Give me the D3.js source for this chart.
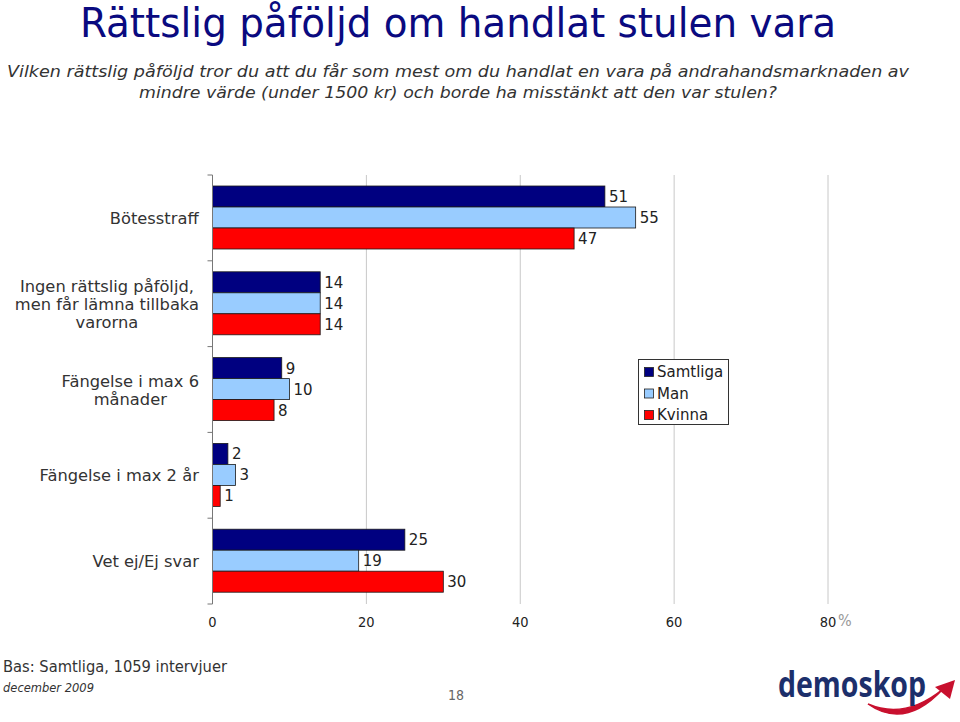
<!DOCTYPE html>
<html><head><meta charset="utf-8">
<script src="https://cdn.jsdelivr.net/npm/d3@7"></script>
<style>body{margin:0;background:#fff}svg{display:block}</style>
</head><body>
<svg id="c" width="960" height="722"></svg>
<script>
const categories = ["Bötesstraff", "Ingen rättslig påföljd,\nmen får lämna tillbaka\nvarorna", "Fängelse i max 6\nmånader", "Fängelse i max 2 år", "Vet ej/Ej svar"];
const seriesNames = ["Samtliga", "Man", "Kvinna"];
const seriesColors = ["#000080", "#99ccff", "#ff0000"];
const samtliga = [51, 14, 9, 2, 25];
const man = [55, 14, 10, 3, 19];
const kvinna = [47, 14, 8, 1, 30];
const xTicks = [0, 20, 40, 60, 80];

const values = [samtliga, man, kvinna];
const svg = d3.select("#c");

// Title
svg.append("text").attr("x", 458).attr("y", 37).attr("text-anchor", "middle")
  .attr("font-family", "DejaVu Sans Condensed").attr("font-size", 40).attr("fill", "#0a0a80")
  .attr("textLength", 756).attr("lengthAdjust", "spacingAndGlyphs")
  .text("Rättslig påföljd om handlat stulen vara");
const sub = ["Vilken rättslig påföljd tror du att du får som mest om du handlat en vara på andrahandsmarknaden  av",
             "mindre värde (under 1500 kr) och borde ha misstänkt att den var stulen?"];
const subW = [902, 638];
sub.forEach((s, i) => {
  svg.append("text").attr("x", 458).attr("y", 77 + i * 21).attr("text-anchor", "middle")
    .attr("font-family", "DejaVu Sans Condensed").attr("font-style", "italic").attr("font-size", 16)
    .attr("fill", "#333").attr("textLength", subW[i]).attr("lengthAdjust", "spacingAndGlyphs").text(s);
});

const x = d3.scaleLinear().domain([0, 80]).range([212.5, 828]);
const y = d3.scaleBand().domain(categories).range([175, 604]);
const ys = d3.scaleBand().domain(seriesNames).range([11, 74]);

// gridlines
svg.append("g").selectAll("line").data(xTicks.slice(1)).join("line")
  .attr("x1", d => x(d)).attr("x2", d => x(d)).attr("y1", 175).attr("y2", 604)
  .attr("stroke", "#c8c8c8").attr("stroke-width", 1);

// bars
const g = svg.append("g");
seriesNames.forEach((s, si) => {
  g.selectAll(null).data(categories).join("rect")
    .attr("x", x(0)).attr("y", c => y(c) + ys(s))
    .attr("width", (c, i) => x(values[si][i]) - x(0)).attr("height", ys.bandwidth())
    .attr("fill", seriesColors[si]).attr("stroke", "#1a1a1a").attr("stroke-width", 0.8);
  g.selectAll(null).data(categories).join("text")
    .attr("x", (c, i) => x(values[si][i]) + 4).attr("y", c => y(c) + ys(s) + ys.bandwidth() / 2 + 5.5)
    .attr("font-family", "DejaVu Sans").attr("font-size", 15).attr("fill", "#222")
    .text((c, i) => values[si][i]);
});

// left axis
const yAxis = svg.append("g");
yAxis.append("line").attr("x1", x(0)).attr("x2", x(0)).attr("y1", 175).attr("y2", 604).attr("stroke", "#777");
yAxis.selectAll(null).data(categories.map(c => y(c)).concat([604])).join("line")
  .attr("x1", x(0) - 5).attr("x2", x(0)).attr("y1", d => d).attr("y2", d => d).attr("stroke", "#777");

// category labels
categories.forEach(c => {
  const lines = c.split("\n");
  const t = svg.append("text").attr("font-family", "DejaVu Sans").attr("font-size", 16.3).attr("fill", "#333").attr("text-anchor", "middle");
  const cy = y(c) + y.bandwidth() / 2;
  const lh = 18;
  lines.forEach((l, i) => {
    t.append("tspan").attr("x", 0).attr("y", cy + (i - (lines.length - 1) / 2) * lh + 6).text(l);
  });
  const w = t.node().getBBox().width;
  t.selectAll("tspan").attr("x", 199 - w / 2);
});

// x tick labels
svg.append("g").selectAll("text").data(xTicks).join("text")
  .attr("x", d => x(d)).attr("y", 627).attr("text-anchor", "middle")
  .attr("font-family", "DejaVu Sans Condensed").attr("font-size", 14.5).attr("fill", "#222")
  .text(d => d);
svg.append("text").attr("x", 838).attr("y", 626).attr("font-family", "DejaVu Sans Condensed")
  .attr("font-size", 16).attr("fill", "#999").text("%");

// legend
const lg = svg.append("g");
lg.append("rect").attr("x", 638.5).attr("y", 359.5).attr("width", 90).attr("height", 65)
  .attr("fill", "#fff").attr("stroke", "#333");
seriesNames.forEach((s, i) => {
  lg.append("rect").attr("x", 644.5).attr("y", 367.5 + i * 21.5).attr("width", 9).attr("height", 9)
    .attr("fill", seriesColors[i]).attr("stroke", "#222").attr("stroke-width", 0.8);
  lg.append("text").attr("x", 657).attr("y", 377 + i * 21.5).attr("font-family", "DejaVu Sans")
    .attr("font-size", 15).attr("fill", "#222").text(s);
});

// footer
svg.append("text").attr("x", 3).attr("y", 672).attr("font-family", "DejaVu Sans Condensed")
  .attr("font-size", 15).attr("fill", "#333").attr("textLength", 224).attr("lengthAdjust", "spacingAndGlyphs")
  .text("Bas: Samtliga, 1059 intervjuer");
svg.append("text").attr("x", 3).attr("y", 692).attr("font-family", "DejaVu Sans Condensed")
  .attr("font-style", "italic").attr("font-size", 13).attr("fill", "#333")
  .attr("textLength", 91).attr("lengthAdjust", "spacingAndGlyphs").text("december 2009");
svg.append("text").attr("x", 456).attr("y", 700).attr("text-anchor", "middle").attr("font-family", "DejaVu Sans Condensed")
  .attr("font-size", 14).attr("fill", "#666").text("18");

// logo (swoosh behind the wordmark)
svg.append("path").attr("d", "M868,704 Q905,720 943,689 Q905,730 868,704 Z")
  .attr("fill", "#c8102e").attr("stroke", "#c8102e").attr("stroke-width", 1.5);
svg.append("path").attr("d", "M955,680 L935,687 L950,699 Z").attr("fill", "#c8102e");
svg.append("text").attr("x", 778).attr("y", 697).attr("font-family", "Open Sans").attr("font-weight", 700)
  .attr("font-size", 35).attr("fill", "#1c2f6b").attr("textLength", 148).attr("lengthAdjust", "spacingAndGlyphs")
  .text("demoskop");
</script>
</body></html>
